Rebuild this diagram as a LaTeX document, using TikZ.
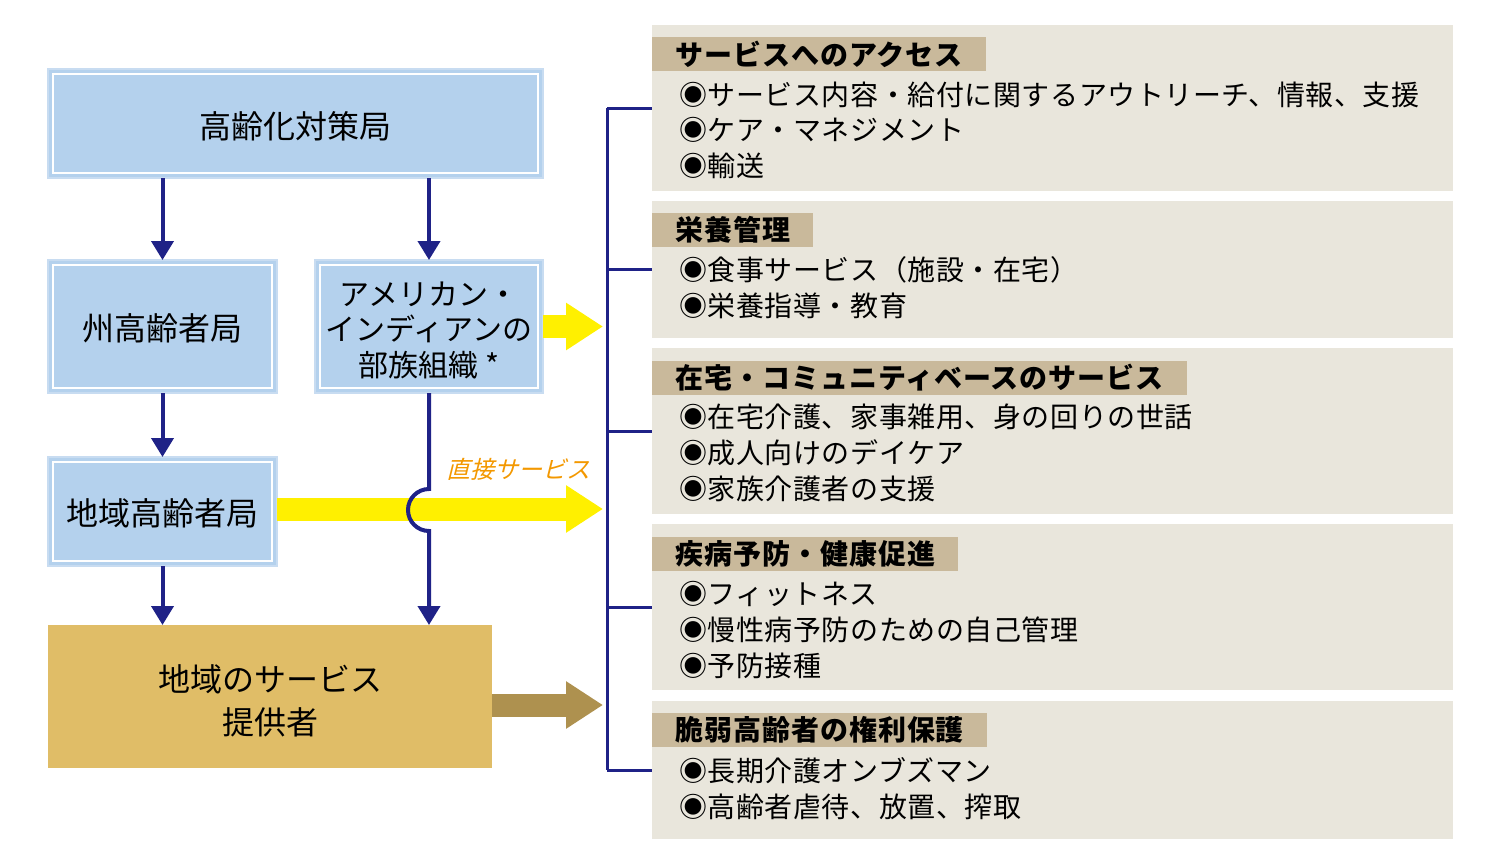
\documentclass[tikz,border=0pt]{standalone}
\usepackage{fontspec}
\setmainfont{Noto Sans CJK JP}
\newfontfamily\slantfont[FakeSlant=0.25]{Noto Sans CJK JP}
\newfontfamily\titlefont[LetterSpace=3.5]{Noto Sans CJK JP}
\newfontfamily\itemfont[LetterSpace=2]{Noto Sans CJK JP}
\usetikzlibrary{arrows.meta}
\definecolor{boxblue}{HTML}{B4D1ED}
\definecolor{boxedge}{HTML}{C8DCF1}
\definecolor{navy}{HTML}{1F2287}
\definecolor{provbrown}{HTML}{E0BD67}
\definecolor{arrbrown}{HTML}{AE914F}
\definecolor{yel}{HTML}{FFF000}
\definecolor{panelbg}{HTML}{E9E6DC}
\definecolor{tabbg}{HTML}{C9B99B}
\definecolor{orangetxt}{HTML}{F39800}
\begin{document}
\begin{tikzpicture}[x=1pt,y=-1pt,
  bluebox/.style={draw=boxedge, line width=1.5pt, fill=boxblue, inner sep=0pt, outer sep=0pt},
  boxtext/.style={inner sep=0pt, align=center, font=\fontsize{32}{38}\selectfont},
  innerline/.style={draw=white, line width=1.2pt},
  flow/.style={draw=navy, line width=4pt, -{Triangle[width=22pt,length=19pt]}},
  bigarrow/.style={line width=23pt, -{Triangle[width=45pt,length=37pt]}},
  panel/.style={fill=panelbg, inner sep=0pt, outer sep=0pt, minimum width=801pt},
  tab/.style={fill=tabbg, inner xsep=23pt, inner ysep=0pt, minimum height=34pt, anchor=west,
    font=\fontsize{28}{32}\selectfont\titlefont\bfseries},
  item/.style={anchor=west, inner sep=0pt, font=\fontsize{28}{32}\selectfont\itemfont},
  bracket/.style={draw=navy, line width=3pt}
]
\useasboundingbox (0,0) rectangle (1500,859);

% left boxes
\node[bluebox, minimum width=495pt, minimum height=109pt] (top) at (295.5,123.5) {};
\node[bluebox, minimum width=229pt, minimum height=133pt] (ss) at (162.5,326.5) {};
\node[bluebox, minimum width=228pt, minimum height=133pt] (am) at (429,326.5) {};
\node[bluebox, minimum width=229pt, minimum height=109pt] (ch) at (162.5,511.5) {};
\node[fill=provbrown, inner sep=0pt, outer sep=0pt, minimum width=444pt, minimum height=143pt] (prov) at (270,696.5) {};

\foreach \n in {top,ss,am,ch}
  \draw[innerline] ([shift={(5,5)}]\n.north west) rectangle ([shift={(-5,-5)}]\n.south east);

\node[boxtext] (topt) at ([yshift=-2.5pt]top.center) {高齢化対策局};
\node[boxtext] (sst) at ([yshift=-2pt]ss.center) {州高齢者局};
\node[boxtext, font=\fontsize{30}{35.5}\selectfont] (amt) at ([yshift=-3.5pt]am.center) {アメリカン・\\インディアンの\\部族組織 *};
\node[boxtext] (cht) at ([yshift=-1.5pt]ch.center) {地域高齢者局};
\node[boxtext, font=\fontsize{32}{43}\selectfont] (provt) at ([yshift=-4.5pt]prov.center) {地域のサービス\\提供者};

% right panels
\node[panel, minimum height=166pt] (p1) at (1052.5,108) {};
\node[panel, minimum height=137pt] (p2) at (1052.5,269.5) {};
\node[panel, minimum height=166pt] (p3) at (1052.5,431) {};
\node[panel, minimum height=166pt] (p4) at (1052.5,607) {};
\node[panel, minimum height=138pt] (p5) at (1052.5,770) {};

\node[tab] (t1) at (652,54.5) {サービスへのアクセス};
\node[item] (i11) at (679,95) {◉サービス内容・給付に関するアウトリーチ、情報、支援};
\node[item] (i12) at (679,130) {◉ケア・マネジメント};
\node[item] (i13) at (679,166) {◉輸送};

\node[tab] (t2) at (652,229.5) {栄養管理};
\node[item] (i21) at (679,270) {◉食事サービス（施設・在宅）};
\node[item] (i22) at (679,306) {◉栄養指導・教育};

\node[tab] (t3) at (652,377.5) {在宅・コミュニティベースのサービス};
\node[item] (i31) at (679,417) {◉在宅介護、家事雑用、身の回りの世話};
\node[item] (i32) at (679,453) {◉成人向けのデイケア};
\node[item] (i33) at (679,489) {◉家族介護者の支援};

\node[tab] (t4) at (652,554) {疾病予防・健康促進};
\node[item] (i41) at (679,594) {◉フィットネス};
\node[item] (i42) at (679,630) {◉慢性病予防のための自己管理};
\node[item] (i43) at (679,666) {◉予防接種};

\node[tab] (t5) at (652,729.5) {脆弱高齢者の権利保護};
\node[item] (i51) at (679,771) {◉長期介護オンブズマン};
\node[item] (i52) at (679,807) {◉高齢者虐待、放置、搾取};

% bracket
\foreach \i in {1,...,5} \path (p\i.west) ++(-45,0) coordinate (bk\i);
\draw[bracket] (bk1) -- (bk5);
\foreach \i in {1,...,5} \draw[bracket] (bk\i) -- (p\i.west);

% big arrows
\coordinate (tipA) at ([xshift=60pt]am.east);
\coordinate (chs) at ([yshift=2.5pt]ch.east);
\coordinate (tipB) at ([xshift=326pt]chs);
\coordinate (pe) at ([yshift=-8.5pt]prov.east);
\coordinate (tipC) at ([xshift=111pt]pe);
\draw[bigarrow, draw=yel, fill=yel] (am.east) -- (tipA);
\draw[bigarrow, draw=yel, fill=yel] (chs) -- (tipB);
\draw[bigarrow, draw=arrbrown, fill=arrbrown] (pe) -- (tipC);

\node[font=\fontsize{24}{28}\selectfont\slantfont, text=orangetxt, inner sep=0pt] (direct) at (518,469) {直接サービス};

% flow arrows
\draw[flow] (ss.north |- top.south) -- (ss.north);
\draw[flow] (am.north |- top.south) -- (am.north);
\draw[flow] (ss.south) -- (ch.north);
\draw[flow] (ch.south) -- (ch.south |- prov.north);
\draw[flow] (am.south) -- ++(0,96) arc[start angle=270, end angle=90, radius=21] -- (am.south |- prov.north);
\end{tikzpicture}
\end{document}
